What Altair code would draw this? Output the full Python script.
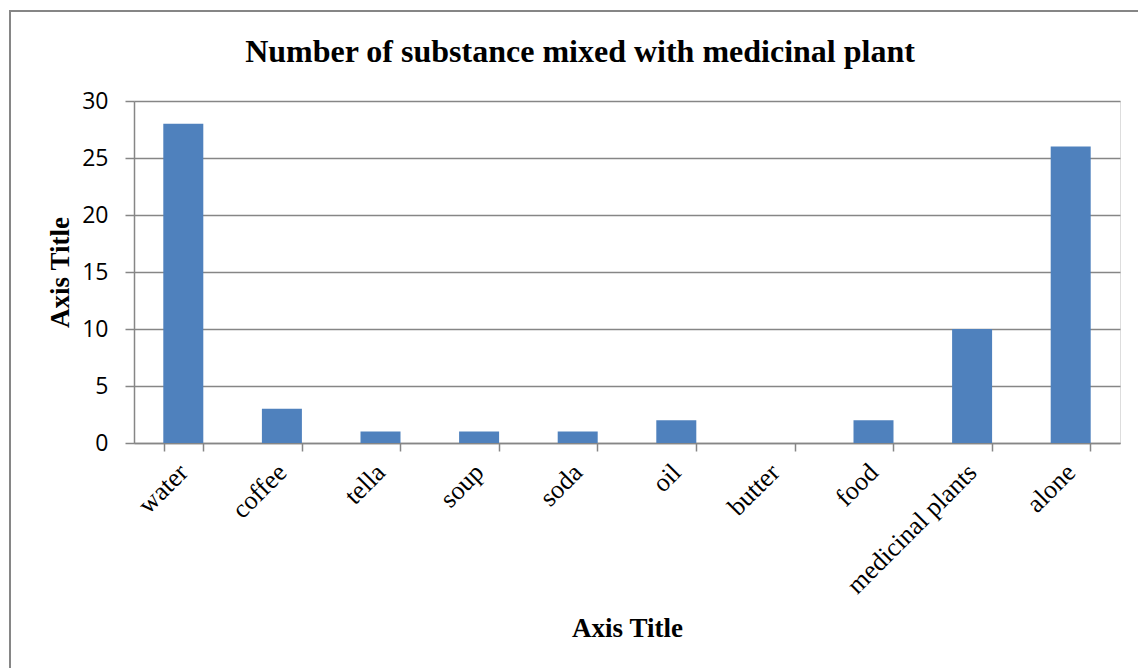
import altair as alt
import pandas as pd

categories = ["water", "coffee", "tella", "soup", "soda", "oil", "butter", "food", "medicinal plants", "alone"]
values = [28, 3, 1, 1, 1, 2, 0, 2, 10, 26]
y_ticks = [0, 5, 10, 15, 20, 25, 30]

df = pd.DataFrame({"substance": categories, "count": values})

bars = alt.Chart(df).mark_bar(color="#4F81BD", size=40).encode(
    x=alt.X(
        "substance:N",
        sort=categories,
        scale=alt.Scale(paddingInner=0.6, paddingOuter=0.3),
        axis=alt.Axis(
            title="Axis Title",
            titleFont="Liberation Serif",
            titleFontSize=27,
            titleFontWeight="bold",
            titleColor="black",
            titleX=493,
            titleY=185,
            titleBaseline="middle",
            labelAngle=-45,
            labelAlign="right",
            labelBaseline="middle",
            labelFont="Liberation Serif",
            labelFontSize=26,
            labelColor="black",
            labelPadding=17,
            tickBand="extent",
            tickSize=8,
            tickColor="#868686",
            tickWidth=1.5,
            domainColor="#868686",
            domainWidth=1.5,
            grid=False,
        ),
    ),
    y=alt.Y(
        "count:Q",
        scale=alt.Scale(domain=[0, 30], nice=False),
        axis=alt.Axis(
            values=y_ticks,
            title="Axis Title",
            titleFont="Liberation Serif",
            titleFontSize=27,
            titleFontWeight="bold",
            titleColor="black",
            titleX=-74,
            titleY=171,
            titleBaseline="middle",
            labelFont="Open Sans",
            labelFontSize=23,
            labelColor="black",
            labelPadding=17,
            tickSize=9,
            tickColor="#868686",
            tickWidth=1.5,
            domainColor="#868686",
            domainWidth=1.5,
            gridColor="#868686",
            gridWidth=1.5,
        ),
    ),
)

border = alt.Chart(pd.DataFrame({"a": [0]})).mark_rect(
    fill=None, stroke="#868686", strokeWidth=2
).encode(
    x=alt.value(-124), x2=alt.value(1030), y=alt.value(-90), y2=alt.value(600)
)

chart = alt.layer(border, bars).properties(
    width=986,
    height=342,
    title=alt.TitleParams(
        "Number of substance mixed with medicinal plant",
        font="Liberation Serif",
        fontSize=32,
        fontWeight="bold",
        color="black",
        anchor="middle",
        baseline="bottom",
        dx=-47,
        dy=91,
        offset=0,
    ),
    autosize=alt.AutoSizeParams(type="none"),
    padding={"left": 134, "top": 101, "right": 18, "bottom": 225},
).configure_view(stroke=None).configure(background="white")

chart.save("out.html", embed_options={"renderer": "svg", "actions": False})
